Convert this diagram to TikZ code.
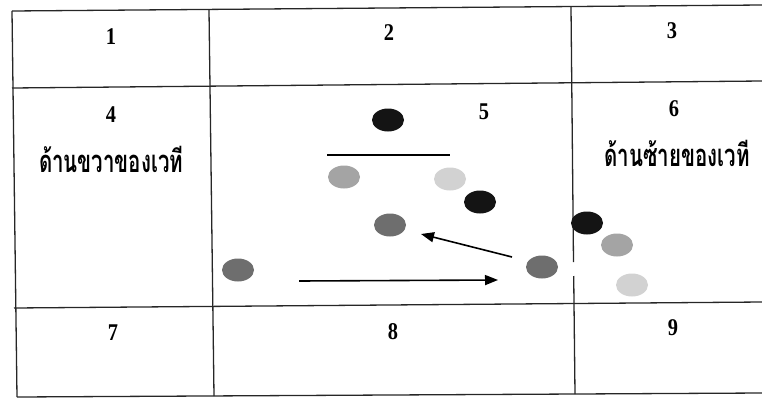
\documentclass[tikz,border=0pt]{standalone}
\usepackage{fontspec}
\setmainfont{Liberation Serif}
\newfontfamily\numfont[FakeStretch=0.85]{Liberation Serif}
\newfontfamily\thaifont[Script=Thai,FakeStretch=0.66]{Loma}
\usetikzlibrary{shapes.geometric,arrows.meta}
\definecolor{dotblack}{HTML}{141414}
\definecolor{dotdark}{HTML}{6E6E6E}
\definecolor{dotmid}{HTML}{A4A4A4}
\definecolor{dotlight}{HTML}{D2D2D2}
\tikzset{
  gridline/.style={line width=1.3pt, black!85},
  numlabel/.style={font=\numfont\fontsize{24}{24}\selectfont\bfseries, inner sep=0pt},
  thailabel/.style={font=\thaifont\fontsize{31}{31}\selectfont\bfseries, inner sep=0pt},
  dot/.style={ellipse, minimum width=32pt, minimum height=23pt, inner sep=0pt, draw=none},
  mover/.style={line width=1.6pt, -{Triangle[length=13pt,width=10pt]}},
}
\begin{document}
\begin{tikzpicture}[x=1pt,y=-1pt]
\useasboundingbox (0,0) rectangle (762,399);
% grid
\draw[gridline] (12,11) -- (762,5);
\draw[gridline] (12,88) -- (762,81);
\draw[gridline] (14,308) -- (762,302);
\draw[gridline] (17,397) -- (762,393);
\draw[gridline] (12,11) -- (17,397);
\draw[gridline] (209,10) -- (214,396);
\draw[gridline] (571,7) -- (573.5,262);
\draw[gridline] (573.7,276) -- (575,394);
% labels
\node[numlabel] (n1) at (111,37) {1};
\node[numlabel] (n2) at (389,33) {2};
\node[numlabel] (n3) at (672,31) {3};
\node[numlabel] (n4) at (111,115) {4};
\node[numlabel] (n5) at (484,112) {5};
\node[numlabel] (n6) at (674,109) {6};
\node[numlabel] (n7) at (113,333) {7};
\node[numlabel] (n8) at (393,332) {8};
\node[numlabel] (n9) at (673,328) {9};
\node[thailabel] (right) at (111,159) {ด้านขวาของเวที};
\node[thailabel] (left) at (677,153) {ด้านซ้ายของเวที};
% dancers
\node[dot, fill=dotblack] (b1) at (388,120) {};
\node[dot, fill=dotmid] (g1) at (344,177) {};
\node[dot, fill=dotlight] (l1) at (450,179) {};
\node[dot, fill=dotblack] (b2) at (480,202) {};
\node[dot, fill=dotdark] (d1) at (390,225) {};
\node[dot, fill=dotdark] (d2) at (238,270) {};
\node[dot, fill=dotdark] (d3) at (542,267) {};
\node[dot, fill=dotblack] (b3) at (587,223) {};
\node[dot, fill=dotmid] (g2) at (617,245) {};
\node[dot, fill=dotlight] (l2) at (632,285) {};
% line and arrows
\coordinate (lineA) at (327,155);
\coordinate (lineB) at (450,155);
\draw[line width=1.5pt] (lineA) -- (lineB);
\coordinate (a1s) at (512,257);
\coordinate (a1e) at (421,234);
\draw[mover] (a1s) -- (a1e);
\coordinate (a2s) at (299,281);
\coordinate (a2e) at (498,280);
\draw[mover] (a2s) -- (a2e);
\end{tikzpicture}
\end{document}
